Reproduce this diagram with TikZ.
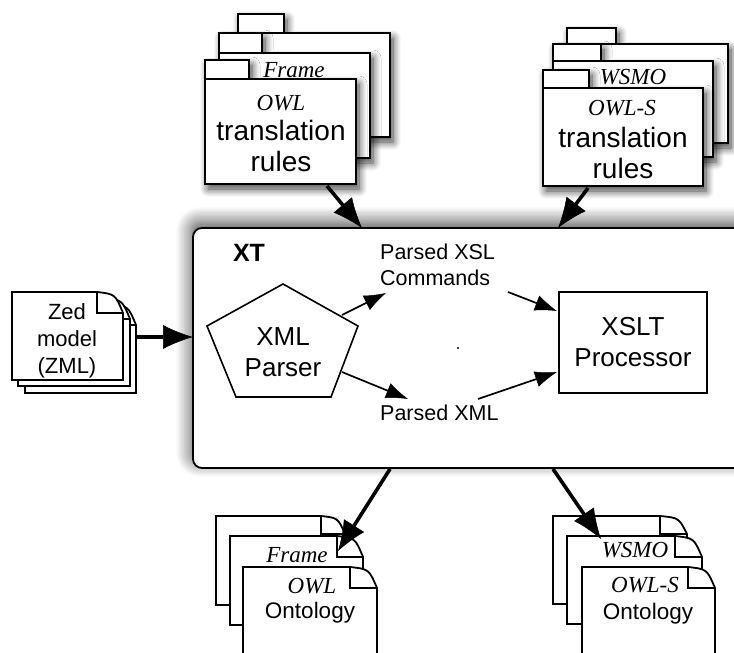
\documentclass[tikz,border=0pt]{standalone}
\usepackage{fontspec}
\setmainfont{Liberation Sans}
\newfontfamily\tms{Liberation Serif}
\usetikzlibrary{arrows.meta,shadows.blur}

\tikzset{
  shp/.style={draw=black, line width=1.8pt, fill=white, line join=miter},
  fldr/.style={shp, line width=2.3pt},
  fshadow/.style={blur shadow={shadow xshift=3pt, shadow yshift=-5pt, shadow blur radius=8pt, shadow blur steps=10, shadow opacity=75}},
  xtshadow/.style={blur shadow={shadow xshift=-2pt, shadow yshift=6pt, shadow blur radius=15pt, shadow blur steps=12, shadow opacity=70}},
  bigarrow/.style={draw=black, line width=3.6pt, -{Latex[length=30pt,width=24pt,fill=black,line width=0.5pt]}},
  smallarrow/.style={draw=black, line width=1.7pt, -{Latex[length=22pt,width=16pt,fill=black,line width=0.5pt]}},
  lbl/.style={inner sep=0pt, align=center},
  itl/.style={lbl, font=\tms\itshape\fontsize{23}{23}\selectfont},
}

% folder: body left, body right, tab left, tab right, tab top, body top, bottom
\newcommand\myfolder[7]{%
  \filldraw[fldr, fshadow] (#1,#7) -- (#1,#6) -- (#3,#6) -- (#3,#5) -- (#4,#5) -- (#4,#6)
     -- (#2,#6) -- (#2,#7) -- cycle;
  \draw[fldr] (#3,#6) -- (#4,#6);
}
% document with folded corner: left, top, right, bottom, fold w, fold h
\newcommand\mydoc[6]{%
  \filldraw[shp] (#1,#2) -- ({#3-#5},#2) .. controls ({#3-#5*0.3},{#2+#6*0.1}) .. (#3,{#2+#6}) -- (#3,#4) -- (#1,#4) -- cycle;
  \draw[shp] ({#3-#5},#2) -- ({#3-#5},{#2+#6}) -- (#3,{#2+#6});
}

\begin{document}
\begin{tikzpicture}[x=1pt,y=-1pt]
\useasboundingbox (0,0) rectangle (734,653);
\clip (0,0) rectangle (734,653);

% ---------- XT box ----------
\node[shp, xtshadow, rounded corners=9pt, minimum width=580pt, minimum height=240pt,
      inner sep=0pt] (xt) at (483,348) {};
\node[lbl, font=\bfseries\fontsize{25}{25}\selectfont] (xtlbl) at (249,253) {XT};

% ---------- top left folders ----------
\myfolder{233}{390}{238}{284}{14}{33}{137}
\myfolder{219}{370}{219}{262}{33}{53}{158}
\myfolder{205}{356}{205}{249}{60}{79}{184}
\node[itl] (frameL) at (294,70) {Frame};
\node[itl] (owlL) at (281,103) {OWL};
\node[lbl, font=\fontsize{28}{31}\selectfont] (rulesL) at (281,146) {translation\\rules};

% ---------- top right folders ----------
\myfolder{560}{728}{567}{616}{28}{44}{143}
\myfolder{553}{713}{553}{601}{44}{61}{157}
\myfolder{543}{703}{543}{589}{70}{88}{186}
\node[itl] (wsmoT) at (633,77) {WSMO};
\node[itl] (owlsT) at (622,108) {OWL-S};
\node[lbl, font=\fontsize{28}{31}\selectfont] (rulesR) at (623,153) {translation\\rules};

% pentagon parser
\filldraw[shp, line width=1.6pt] (283,284) -- (358,326) -- (331,397) -- (236,397) -- (207,326) -- cycle;
\node[lbl, font=\fontsize{26}{31}\selectfont] (parser) at (283,352) {XML\\Parser};

% XSLT processor
\node[shp, line width=1.6pt, minimum width=148pt, minimum height=101pt, inner sep=0pt,
      align=center, font=\fontsize{26}{31}\selectfont] (xslt) at (633,342.5) {XSLT\\Processor};

\node[lbl, anchor=west, align=left, font=\fontsize{21.5}{26}\selectfont] (pxsl) at (380,265) {Parsed XSL\\Commands};
\node[lbl, anchor=west, font=\fontsize{21.5}{26}\selectfont] (pxml) at (380,413) {Parsed XML};
\fill[black] (458,348) circle (1.2pt);

\coordinate (p1) at (342,315);  \coordinate (c1) at (386,293);
\coordinate (c2) at (508,292);  \coordinate (x1) at (557,311);
\coordinate (p2) at (342,372);  \coordinate (m1) at (408,399);
\coordinate (m2) at (478,399);  \coordinate (x2) at (557,372);
\draw[smallarrow] (p1) -- (c1);
\draw[smallarrow] (c2) -- (x1);
\draw[smallarrow] (p2) -- (m1);
\draw[smallarrow] (m2) -- (x2);

% ---------- Zed model docs ----------
\mydoc{25}{304}{136}{393}{26}{21}
\mydoc{18}{298}{130}{386}{26}{21}
\mydoc{12}{292}{123}{380}{26}{21}
\node[lbl, font=\fontsize{22}{27}\selectfont] (zed) at (67,341) {Zed\\model\\(ZML)};

% ---------- bottom left docs ----------
\mydoc{216}{516}{345}{605}{24}{18}
\mydoc{230}{536}{363}{625}{26}{21}
\mydoc{243}{567}{377}{700}{27}{21}
\node[itl] (frameB) at (297,555) {Frame};
\node[itl] (owlB) at (312,586) {OWL};
\node[lbl, font=\fontsize{22.5}{27}\selectfont] (ontL) at (310,613) {Ontology};

% ---------- bottom right docs ----------
\mydoc{553}{516}{687}{604}{27}{18}
\mydoc{567}{536}{702}{624}{27}{21}
\mydoc{582}{567}{715}{700}{27}{21}
\node[itl] (wsmoB) at (635,550) {WSMO};
\node[itl] (owlsB) at (645,585) {OWL-S};
\node[lbl, font=\fontsize{22.5}{27}\selectfont] (ontR) at (648,614) {Ontology};

% ---------- outer arrows ----------
\coordinate (t1) at (327,186);  \coordinate (t1e) at (362,228);
\coordinate (t2) at (588,188);  \coordinate (t2e) at (558,228);
\coordinate (z1) at (137,337);  \coordinate (z1e) at (193,337);
\coordinate (b1) at (390,469);  \coordinate (b1e) at (338,551);
\coordinate (b2) at (553,469);  \coordinate (b2e) at (601,539);
\draw[bigarrow] (t1) -- (t1e);
\draw[bigarrow] (t2) -- (t2e);
\draw[bigarrow] (z1) -- (z1e);
\draw[bigarrow] (b1) -- (b1e);
\draw[bigarrow] (b2) -- (b2e);
\end{tikzpicture}
\end{document}
